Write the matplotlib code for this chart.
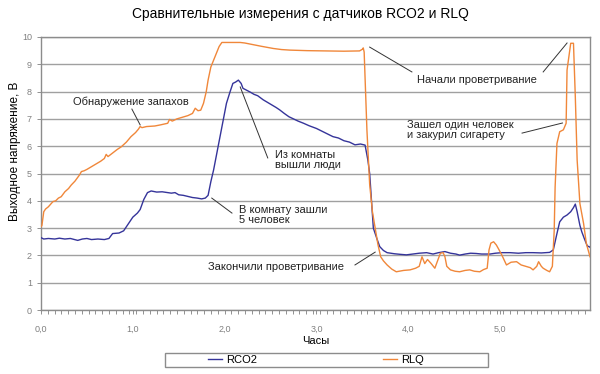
import matplotlib
matplotlib.use("Agg")
import matplotlib.pyplot as plt
from matplotlib.patches import Rectangle
from matplotlib.ticker import MultipleLocator

plt.rcParams["font.family"] = ["Liberation Sans", "DejaVu Sans"]

# ---------------------------------------------------------------- data
rco2_t = [0.00, 0.03, 0.08, 0.15, 0.20, 0.26, 0.32, 0.40, 0.45, 0.50, 0.55, 0.62, 0.69, 0.74,
          0.78, 0.85, 0.90, 0.95, 1.00, 1.05, 1.08, 1.12, 1.16, 1.20, 1.26, 1.32, 1.38, 1.42,
          1.46, 1.50, 1.55, 1.60, 1.65, 1.70, 1.75, 1.79, 1.82, 1.85, 1.88, 1.95, 2.02, 2.06,
          2.09, 2.12, 2.15, 2.18, 2.20, 2.24, 2.28, 2.32, 2.36, 2.42, 2.46, 2.52, 2.56, 2.60,
          2.65, 2.70, 2.75, 2.80, 2.86, 2.92, 3.00, 3.06, 3.12, 3.18, 3.24, 3.30, 3.36, 3.42,
          3.48, 3.53, 3.56, 3.58, 3.60, 3.62, 3.66, 3.69, 3.73, 3.77, 3.85, 3.91, 3.98, 4.05,
          4.12, 4.20, 4.27, 4.33, 4.40, 4.46, 4.52, 4.56, 4.62, 4.68, 4.74, 4.80, 4.89, 4.95,
          5.02, 5.11, 5.20, 5.28, 5.36, 5.45, 5.54, 5.58, 5.62, 5.65, 5.69, 5.73, 5.77, 5.80,
          5.82, 5.84, 5.87, 5.89, 5.92, 5.95, 5.98]
rco2_v = [2.65, 2.60, 2.62, 2.60, 2.63, 2.60, 2.62, 2.55, 2.60, 2.62, 2.58, 2.60, 2.58, 2.62,
          2.80, 2.82, 2.90, 3.15, 3.40, 3.55, 3.68, 4.05, 4.30, 4.36, 4.32, 4.33, 4.30, 4.28,
          4.30, 4.22, 4.20, 4.16, 4.12, 4.10, 4.07, 4.10, 4.20, 4.70, 5.13, 6.35, 7.57, 8.00,
          8.30, 8.35, 8.42, 8.30, 8.12, 8.05, 7.98, 7.90, 7.85, 7.70, 7.62, 7.50, 7.42, 7.33,
          7.20, 7.08, 7.00, 6.92, 6.84, 6.75, 6.65, 6.55, 6.45, 6.35, 6.30, 6.20, 6.15, 6.05,
          6.08, 6.04, 5.50, 5.00, 4.00, 3.00, 2.60, 2.32, 2.18, 2.10, 2.06, 2.04, 2.02, 2.05,
          2.08, 2.10, 2.05, 2.10, 2.14, 2.08, 2.05, 2.01, 2.05, 2.08, 2.07, 2.05, 2.05, 2.08,
          2.10, 2.10, 2.08, 2.10, 2.10, 2.09, 2.11, 2.20, 2.80, 3.23, 3.40, 3.48, 3.60, 3.75,
          3.88, 3.60, 3.10, 2.87, 2.60, 2.35, 2.30]

rlq_t = [0.00, 0.01, 0.03, 0.05, 0.08, 0.13, 0.16, 0.19, 0.22, 0.26, 0.30, 0.33, 0.37, 0.42,
         0.44, 0.47, 0.50, 0.55, 0.60, 0.65, 0.69, 0.71, 0.73, 0.78, 0.83, 0.875, 0.93, 0.98,
         1.03, 1.06, 1.08, 1.10, 1.15, 1.24, 1.30, 1.38, 1.40, 1.43, 1.48, 1.53, 1.60, 1.65,
         1.68, 1.71, 1.74, 1.77, 1.80, 1.82, 1.85, 1.88, 1.91, 1.94, 1.97, 2.05, 2.17, 2.22,
         2.28, 2.40, 2.53, 2.62, 2.71, 2.90, 3.07, 3.30, 3.47, 3.50, 3.51, 3.52, 3.55, 3.58,
         3.61, 3.64, 3.67, 3.70, 3.73, 3.77, 3.82, 3.87, 3.95, 4.02, 4.08, 4.12, 4.15, 4.18,
         4.21, 4.25, 4.29, 4.33, 4.35, 4.38, 4.40, 4.42, 4.46, 4.51, 4.56, 4.62, 4.67, 4.72,
         4.78, 4.82, 4.86, 4.88, 4.90, 4.93, 4.96, 4.99, 5.02, 5.07, 5.12, 5.18, 5.23, 5.29,
         5.33, 5.36, 5.40, 5.42, 5.45, 5.47, 5.51, 5.54, 5.57, 5.59, 5.60, 5.62, 5.65, 5.69,
         5.72, 5.73, 5.75, 5.77, 5.80, 5.82, 5.84, 5.87, 5.91, 5.94, 5.98]
rlq_v = [3.05, 3.10, 3.60, 3.70, 3.78, 3.97, 4.00, 4.10, 4.15, 4.33, 4.45, 4.58, 4.72, 4.95,
         5.07, 5.10, 5.15, 5.25, 5.35, 5.45, 5.55, 5.70, 5.62, 5.75, 5.88, 5.98, 6.15, 6.35,
         6.50, 6.62, 6.72, 6.68, 6.72, 6.74, 6.78, 6.84, 6.98, 6.92, 7.00, 7.05, 7.12, 7.20,
         7.39, 7.30, 7.32, 7.57, 8.00, 8.42, 8.90, 9.15, 9.40, 9.65, 9.80, 9.80, 9.80, 9.78,
         9.74, 9.66, 9.58, 9.54, 9.52, 9.50, 9.49, 9.48, 9.49, 9.55, 9.60, 9.45, 6.60, 4.60,
         3.60, 3.00, 2.40, 1.95, 1.80, 1.65, 1.50, 1.40, 1.45, 1.47, 1.53, 1.60, 1.95, 1.70,
         1.85, 1.70, 1.53, 1.90, 2.08, 2.10, 1.95, 1.60, 1.47, 1.42, 1.40, 1.45, 1.47, 1.42,
         1.40, 1.48, 1.53, 2.20, 2.45, 2.50, 2.38, 2.20, 2.01, 1.65, 1.75, 1.77, 1.65, 1.59,
         1.55, 1.47, 1.60, 1.77, 1.60, 1.53, 1.45, 1.40, 1.60, 2.90, 4.50, 6.10, 6.53, 6.60,
         6.84, 8.79, 9.28, 9.77, 9.77, 7.81, 5.49, 3.90, 3.17, 2.44, 1.95]

x_ticks = [0, 1, 2, 3, 4, 5]
x_labels = ["0,0", "1,0", "2,0", "3,0", "4,0", "5,0"]
y_ticks = list(range(0, 11))

BLUE, ORANGE = "#35349a", "#f0873a"
GRID, TICK = "#a0a0a0", "#808080"

# ---------------------------------------------------------------- figure
fig = plt.figure(figsize=(6.0, 3.74), dpi=100)
ax = fig.add_axes([41 / 600, 1 - 310 / 374, 549 / 600, 273 / 374])

ax.plot(rco2_t, rco2_v, color=BLUE, lw=1.0, label="RCO2", zorder=3)
ax.plot(rlq_t, rlq_v, color=ORANGE, lw=1.0, label="RLQ", zorder=3)

ax.set_xlim(0, 5.98)
ax.set_ylim(0, 10)
ax.set_yticks(y_ticks)
ax.set_xticks(x_ticks)
ax.set_xticklabels(x_labels)
ax.xaxis.set_minor_locator(MultipleLocator(1 / 13.5))
ax.tick_params(axis="both", which="both", colors=TICK, labelsize=6.5, length=3, width=0.6)
ax.tick_params(axis="x", which="major", pad=8)
ax.grid(axis="y", color=GRID, lw=1.0, zorder=1)
for s in ax.spines.values():
    s.set_color("#8c8c8c")
    s.set_linewidth(1.0)

ax.set_xlabel("Часы", fontsize=8, labelpad=1)
ax.set_ylabel("Выходное напряжение, В", fontsize=8.5)
ax.yaxis.set_label_coords(-0.037, 0.58)
fig.suptitle("Сравнительные измерения с датчиков RCO2 и RLQ", fontsize=10, y=0.982)

# ---------------------------------------------------------------- annotations
LC = "#333333"
def note(text, xytext, ha="left"):
    ax.text(*xytext, text, fontsize=8, ha=ha, va="center", linespacing=1.0, color="#222222")

def leader(p0, p1):
    ax.plot([p0[0], p1[0]], [p0[1], p1[1]], color=LC, lw=0.7, zorder=4)

note("Обнаружение запахов", (0.98, 7.62), ha="center")
leader((0.99, 7.36), (1.08, 6.78))

note("Из комнаты\nвышли люди", (2.55, 5.48))
leader((2.17, 8.17), (2.47, 5.57))

note("В комнату зашли\n5 человек", (2.16, 3.48))
leader((1.86, 4.10), (2.08, 3.55))

note("Начали проветривание", (4.10, 8.42))
leader((3.58, 9.63), (4.04, 8.72))
leader((5.47, 8.72), (5.73, 9.78))

note("Зашел один человек\nи закурил сигарету", (3.99, 6.58))
leader((5.24, 6.48), (5.68, 6.85))

note("Закончили проветривание", (1.82, 1.58))
leader((3.42, 1.65), (3.64, 2.12))

# ---------------------------------------------------------------- legend
fig.patches.append(Rectangle((165 / 600, 1 - 367 / 374), 323 / 600, 14 / 374,
                             transform=fig.transFigure, fill=False,
                             edgecolor="#8c8c8c", lw=1.0))
fig.legend(loc="center", bbox_to_anchor=(316 / 600, 1 - 360 / 374), ncol=2,
           frameon=False, fontsize=8, handlelength=1.3, handletextpad=0.35,
           columnspacing=11.3, borderpad=0.1)

fig.savefig("out.png", dpi=100)
